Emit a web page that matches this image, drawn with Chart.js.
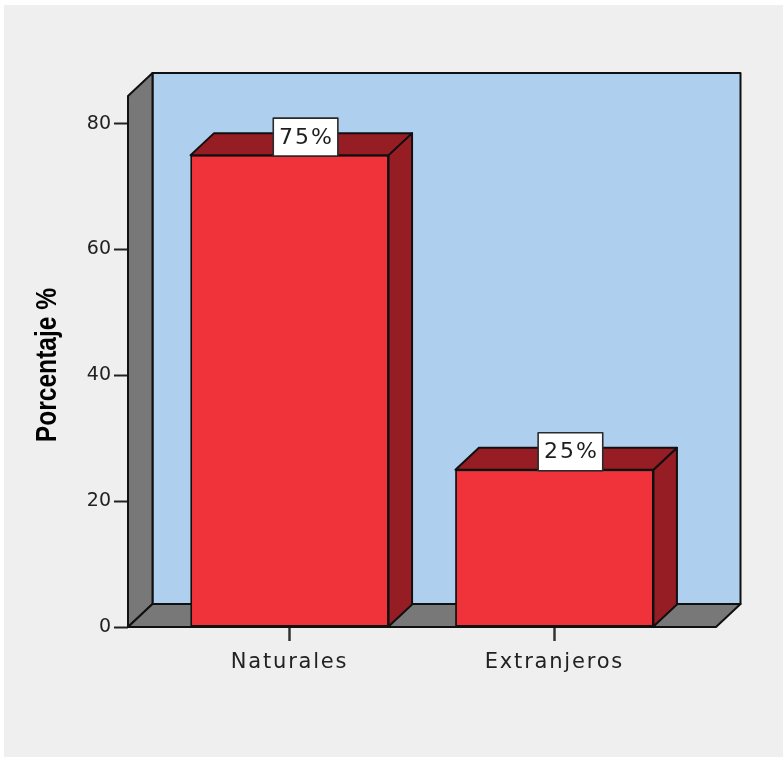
<!DOCTYPE html>
<html>
<head>
<meta charset="utf-8">
<script src="https://cdn.jsdelivr.net/npm/chart.js@4/dist/chart.umd.min.js"></script>
<style>
  html, body { margin: 0; padding: 0; background: #ffffff; }
  #panel { position: absolute; left: 4px; top: 5px; width: 779px; height: 752px; background: #efefef; }
  #wrap { position: absolute; left: 0; top: 0; width: 783px; height: 757px; }
</style>
</head>
<body>
<div id="panel"></div>
<div id="wrap"><canvas id="c" width="783" height="757"></canvas></div>
<script>
// Categories and their share of the total
const categories = ['Naturales', 'Extranjeros'];
const percentages = [75, 25];
const valueLabels = ['75%', '25%'];
const yTicks = [0, 20, 40, 60, 80];
const yTitle = 'Porcentaje %';

// 3D look: depth offsets for the walls and for the bars
const WALL_DEPTH = { dx: 24.5, dy: 23 };
const BAR_DEPTH = { dx: 23.5, dy: 22 };
const EDGE = '#101010';

function poly(ctx, pts, fill) {
  ctx.beginPath();
  ctx.moveTo(pts[0][0], pts[0][1]);
  for (let i = 1; i < pts.length; i++) ctx.lineTo(pts[i][0], pts[i][1]);
  ctx.closePath();
  ctx.fillStyle = fill;
  ctx.fill();
  ctx.stroke();
}

const box3d = {
  id: 'box3d',
  beforeDatasetsDraw(chart) {
    const { ctx, chartArea: a } = chart;
    const { dx, dy } = WALL_DEPTH;
    ctx.save();
    ctx.lineWidth = 2;
    ctx.strokeStyle = EDGE;
    ctx.lineJoin = 'round';
    // back wall
    poly(ctx, [[a.left + dx, a.top - dy], [a.right + dx, a.top - dy], [a.right + dx, a.bottom - dy], [a.left + dx, a.bottom - dy]], '#aed0ee');
    // left side wall
    poly(ctx, [[a.left, a.top], [a.left + dx, a.top - dy], [a.left + dx, a.bottom - dy], [a.left, a.bottom]], '#787878');
    // floor
    poly(ctx, [[a.left, a.bottom], [a.left + dx, a.bottom - dy], [a.right + dx, a.bottom - dy], [a.right, a.bottom]], '#787878');
    ctx.restore();
  },
  afterDatasetsDraw(chart) {
    const { ctx } = chart;
    const { dx, dy } = BAR_DEPTH;
    const meta = chart.getDatasetMeta(0);
    ctx.save();
    ctx.lineWidth = 2;
    ctx.strokeStyle = EDGE;
    ctx.lineJoin = 'round';
    meta.data.forEach((bar) => {
      const half = bar.width / 2;
      const L = bar.x - half, R = bar.x + half, T = bar.y, B = bar.base;
      // right side face
      poly(ctx, [[R, T], [R + dx, T - dy], [R + dx, B - dy], [R, B]], '#951d23');
      // top face
      poly(ctx, [[L, T], [L + dx, T - dy], [R + dx, T - dy], [R, T]], '#951d23');
    });
    // value labels
    meta.data.forEach((bar, i) => {
      const cx = bar.x + 16, cy = bar.y - 18;
      const w = 64.6, h = 38;
      ctx.fillStyle = '#ffffff';
      ctx.strokeStyle = '#2a2a2a';
      ctx.lineWidth = 1.6;
      ctx.fillRect(cx - w / 2, cy - h / 2, w, h);
      ctx.strokeRect(cx - w / 2, cy - h / 2, w, h);
      ctx.font = '22px "DejaVu Sans"';
      ctx.letterSpacing = '2px';
      ctx.fillStyle = '#1e1e1e';
      ctx.textAlign = 'center';
      ctx.textBaseline = 'middle';
      ctx.fillText(valueLabels[i], cx + 1, cy + 1);
    });
    ctx.restore();
    // category labels are drawn next (ticks z = 1) with a little extra spacing
    ctx.letterSpacing = '1.8px';
  },
  afterDraw(chart) {
    const { ctx } = chart;
    ctx.letterSpacing = '0px';
    // vertical axis title, in a narrow bold face
    ctx.save();
    ctx.translate(47.5, 365);
    ctx.rotate(-Math.PI / 2);
    ctx.scale(0.82, 1);
    ctx.font = 'bold 30px "Liberation Sans", Arial, sans-serif';
    ctx.fillStyle = '#000000';
    ctx.textAlign = 'center';
    ctx.textBaseline = 'middle';
    ctx.fillText(yTitle, 0, 0);
    ctx.restore();
  }
};

new Chart(document.getElementById('c'), {
  type: 'bar',
  data: {
    datasets: [{
      data: percentages.map((v, i) => ({ x: i + 1, y: v })),
      backgroundColor: '#f0323a',
      borderColor: EDGE,
      borderWidth: 1.8,
      borderSkipped: false,
      barThickness: 198
    }]
  },
  options: {
    responsive: false,
    animation: false,
    devicePixelRatio: 1,
    layout: { padding: { left: 0, right: 67, top: 96, bottom: 0 } },
    plugins: { legend: { display: false }, tooltip: { enabled: false } },
    scales: {
      x: {
        type: 'linear',
        min: 0.39,
        max: 2.61,
        offset: false,
        afterBuildTicks: (s) => { s.ticks = categories.map((_, i) => ({ value: i + 1 })); },
        afterFit: (s) => { s.height = 130; },
        ticks: {
          callback: (v) => categories[Math.round(v) - 1],
          font: { family: 'DejaVu Sans', size: 21 },
          color: '#222222',
          padding: 9,
          maxRotation: 0,
          autoSkip: false,
          z: 1
        },
        grid: { display: true, offset: false, drawOnChartArea: false, drawTicks: true, tickLength: 14, tickWidth: 2.5, tickColor: '#333333' },
        border: { display: false }
      },
      y: {
        min: 0,
        max: 84.4,
        afterBuildTicks: (s) => { s.ticks = yTicks.map((v) => ({ value: v })); },
        afterFit: (s) => { s.width = 128; },
        ticks: {
          font: { family: 'DejaVu Sans', size: 19 },
          color: '#222222',
          padding: 3
        },
        grid: { display: true, drawOnChartArea: false, drawTicks: true, tickLength: 14, tickWidth: 2, tickColor: '#222222' },
        border: { display: false }
      }
    }
  },
  plugins: [box3d]
});
</script>
</body>
</html>
